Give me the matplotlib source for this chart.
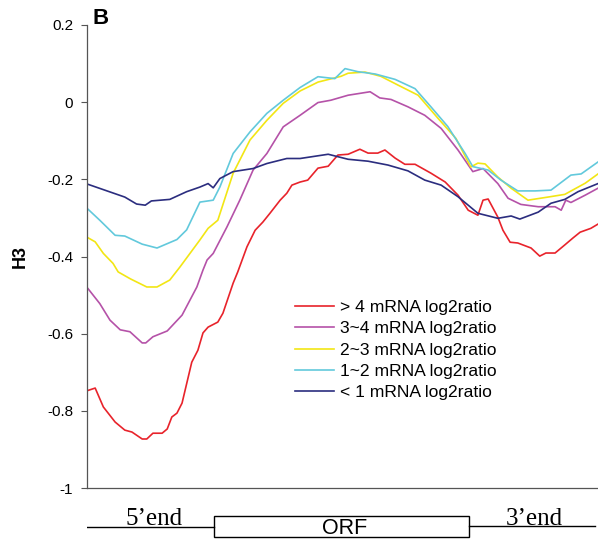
import matplotlib
matplotlib.use("Agg")
import matplotlib.pyplot as plt
from matplotlib.patches import Rectangle

plt.rcParams['font.family'] = ['Liberation Sans', 'DejaVu Sans']

# position along gene (0-25 = 5' region, 25-75 = ORF, 75-100 = 3' region)
x_red = [0, 1.6, 3.2, 5.5, 7.4, 8.8, 10.8, 11.7, 12.9, 14.7, 15.7, 16.6, 17.6, 18.6, 20.5,
         21.7, 22.7, 23.7, 25.6, 26.6, 28.6, 29.5, 31.3, 32.9, 34.4, 35.8, 37.8, 39.1, 40.1,
         41.7, 43.2, 45.2, 47.2, 49.1, 51.1, 53.4, 55.0, 56.9, 58.3, 60.3, 62.2, 64.2, 67.3,
         70.1, 72.6, 74.6, 76.5, 77.5, 78.5, 80.4, 81.4, 82.8, 84.3, 86.9, 88.6, 89.8, 91.6,
         93.5, 95.1, 96.5, 98.6, 100]
y_red = [-0.748, -0.741, -0.79, -0.829, -0.85, -0.855, -0.873, -0.873, -0.858, -0.858, -0.847,
         -0.816, -0.806, -0.78, -0.674, -0.643, -0.598, -0.583, -0.57, -0.547, -0.469, -0.44,
         -0.375, -0.332, -0.311, -0.288, -0.254, -0.236, -0.215, -0.207, -0.202, -0.171,
         -0.166, -0.137, -0.135, -0.122, -0.132, -0.132, -0.124, -0.145, -0.161, -0.161,
         -0.184, -0.207, -0.241, -0.28, -0.293, -0.254, -0.251, -0.298, -0.332, -0.363,
         -0.365, -0.378, -0.399, -0.391, -0.391, -0.37, -0.352, -0.337, -0.327, -0.316]

x_mag = [0, 2.5, 4.5, 6.5, 8.4, 10.8, 11.5, 12.9, 15.7, 18.6, 21.5, 22.7, 23.5, 24.7, 27.4,
         29.9, 32.5, 35.2, 38.4, 41.7, 45.2, 47.7, 51.1, 55.4, 57.3, 59.5, 62.8, 66.1, 69.3,
         72.6, 75.5, 77.5, 80.4, 82.4, 84.9, 88.3, 91.6, 92.8, 93.7, 94.7, 97.5, 100]
y_mag = [-0.48, -0.522, -0.565, -0.59, -0.595, -0.624, -0.624, -0.608, -0.593, -0.552, -0.479,
         -0.435, -0.409, -0.392, -0.323, -0.254, -0.176, -0.133, -0.064, -0.034, -0.001,
         0.005, 0.018, 0.027, 0.011, 0.007, -0.012, -0.034, -0.068, -0.124, -0.18, -0.172,
         -0.211, -0.249, -0.265, -0.271, -0.271, -0.28, -0.254, -0.26, -0.241, -0.223]

x_yel = [0, 1.6, 3.2, 5.1, 6.1, 8.5, 11.7, 13.7, 16.2, 18.2, 22.1, 23.7, 25.6, 28.6, 31.9,
         35.2, 38.4, 41.7, 45.2, 49.7, 51.1, 54.4, 57.5, 60.9, 64.8, 68.7, 72.2, 75.1, 76.5,
         77.9, 80.4, 83.0, 86.3, 90.2, 93.5, 97.5, 100]
y_yel = [-0.35, -0.362, -0.392, -0.418, -0.44, -0.458, -0.479, -0.479, -0.461, -0.427, -0.357,
         -0.327, -0.306, -0.184, -0.098, -0.047, -0.003, 0.029, 0.052, 0.067, 0.075, 0.078,
         0.067, 0.044, 0.018, -0.042, -0.094, -0.168, -0.158, -0.16, -0.194, -0.223, -0.254,
         -0.246, -0.239, -0.21, -0.186]

x_cyan = [0, 2.5, 5.5, 7.4, 10.8, 13.7, 17.6, 19.5, 22.1, 24.7, 26.0, 28.6, 31.9, 35.2, 38.4,
          41.7, 45.2, 48.5, 50.5, 53.0, 56.4, 60.3, 64.2, 67.3, 70.6, 74.0, 75.5, 78.5, 81.0,
          84.3, 87.7, 90.8, 94.7, 96.7, 100]
y_cyan = [-0.275, -0.306, -0.345, -0.347, -0.368, -0.378, -0.356, -0.331, -0.259, -0.254,
          -0.22, -0.133, -0.077, -0.029, 0.005, 0.038, 0.066, 0.061, 0.087, 0.079, 0.073,
          0.059, 0.035, -0.012, -0.063, -0.133, -0.167, -0.176, -0.202, -0.23, -0.23, -0.228,
          -0.189, -0.186, -0.155]

x_navy = [0, 7.4, 9.7, 11.4, 12.6, 16.2, 19.5, 22.1, 23.7, 24.7, 26.0, 28.6, 32.5, 35.2, 39.1,
          41.7, 47.2, 51.1, 55.0, 58.9, 62.8, 66.1, 69.3, 72.6, 76.5, 80.4, 83.0, 84.7, 88.3,
          90.8, 93.5, 96.1, 100]
y_navy = [-0.212, -0.246, -0.264, -0.267, -0.256, -0.252, -0.232, -0.22, -0.211, -0.222,
          -0.198, -0.18, -0.172, -0.159, -0.146, -0.146, -0.135, -0.148, -0.153, -0.163,
          -0.178, -0.202, -0.215, -0.245, -0.288, -0.301, -0.295, -0.303, -0.285, -0.262,
          -0.252, -0.232, -0.211]

labels = ['> 4 mRNA log2ratio', '3~4 mRNA log2ratio', '2~3 mRNA log2ratio',
          '1~2 mRNA log2ratio', '< 1 mRNA log2ratio']
colors = ['#e8232b', '#b552a8', '#f2e614', '#62c9dc', '#2b2d7f']
yticks = [-1, -0.8, -0.6, -0.4, -0.2, 0, 0.2]
ytick_labels = ['-1', '-0.8', '-0.6', '-0.4', '-0.2', '0', '0.2']

# gene schematic
orf_start, orf_end = 24.8, 74.8

fig = plt.figure(figsize=(5.98, 5.40), dpi=100)
ax = fig.add_axes([87 / 598, 1 - 488 / 540, 511 / 598, 463 / 540])

series = [(x_red, y_red), (x_mag, y_mag), (x_yel, y_yel), (x_cyan, y_cyan), (x_navy, y_navy)]
for (xs, ys), c, lab in zip(series, colors, labels):
    ax.plot(xs, ys, color=c, lw=1.2, label=lab)

ax.set_xlim(0, 100)
ax.set_ylim(-1, 0.2)
ax.set_yticks(yticks)
ax.set_yticklabels(ytick_labels)
ax.set_xticks([])
ax.tick_params(axis='y', direction='out', length=4, width=0.8, color='#555555',
               labelsize=11, pad=6)
for s in ['top', 'right']:
    ax.spines[s].set_visible(False)
for s in ['left', 'bottom']:
    ax.spines[s].set_color('#555555')
    ax.spines[s].set_linewidth(0.9)
ax.set_ylabel('H3', fontsize=13, fontweight='bold', labelpad=13)

ax.legend(loc='upper left', bbox_to_anchor=(295 / 598, 1 - 300 / 540),
          bbox_transform=fig.transFigure, frameon=False, fontsize=12.6, borderpad=0,
          handlelength=2.2, handletextpad=0.35, labelspacing=0.34, borderaxespad=0)

fig.text(93 / 598, 1 - 18 / 540, 'B', fontsize=16, fontweight='bold', va='center')

# bottom schematic
bx = fig.add_axes([87 / 598, 0, 511 / 598, 40 / 540])
bx.set_xlim(0, 100)
bx.set_ylim(540, 500)
bx.axis('off')
bx.plot([0, orf_start], [527, 527], color='black', lw=1.0)
bx.plot([orf_end, 99.5], [526, 526], color='black', lw=1.0)
bx.add_patch(Rectangle((orf_start, 515.5), orf_end - orf_start, 21.5, fill=False,
                       edgecolor='black', lw=1.0))
bx.text((orf_start + orf_end) / 2 + 0.7, 528, 'ORF', ha='center', va='center', fontsize=15.5)
bx.text(13.2, 525, '5\u2019end', ha='center', va='baseline', fontsize=18,
        family='Liberation Serif')
bx.text(87.6, 525, '3\u2019end', ha='center', va='baseline', fontsize=18,
        family='Liberation Serif')

fig.savefig('out.png', dpi=100)
